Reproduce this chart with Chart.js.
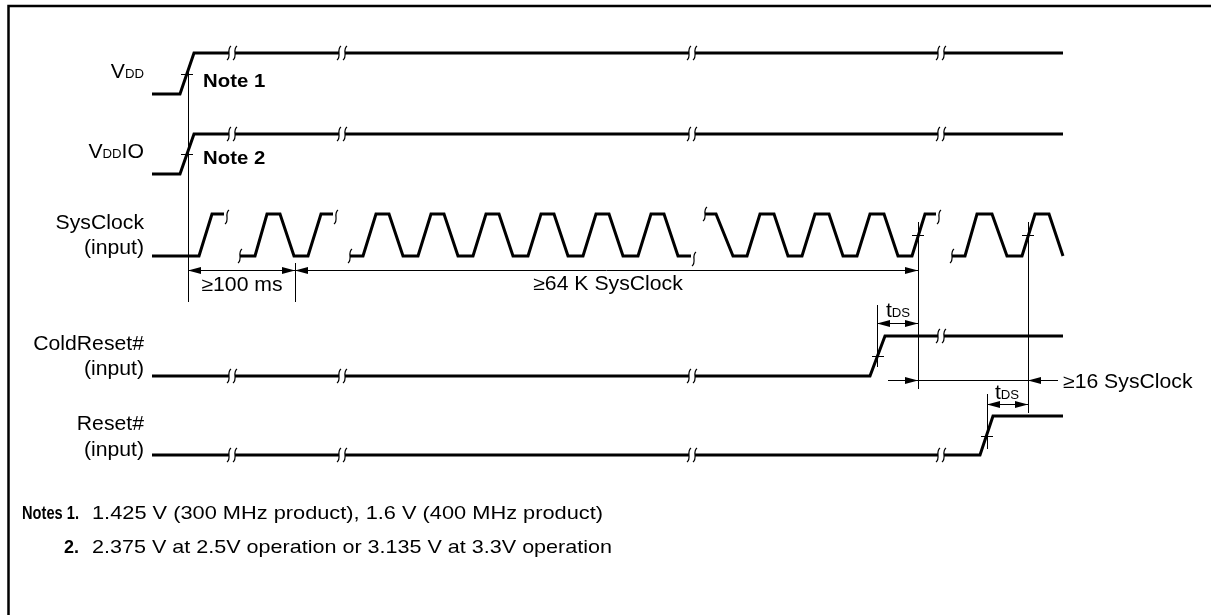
<!DOCTYPE html>
<html>
<head>
<meta charset="utf-8">
<script src="https://cdn.jsdelivr.net/npm/chart.js@4.4.0/dist/chart.umd.min.js"></script>
<style>
  body { margin: 0; background: #fff; }
  canvas { display: block; }
</style>
</head>
<body>
<canvas id="timing" width="1211" height="615"></canvas>
<script>
// ---- data (time axis in diagram units, level 0 = low, 1 = high, null = break) ----
const rowLow  = [94, 174, 256, 376, 455];
const rowHigh = [53, 134, 214, 336, 416];

const vddTimes    = [152, 180, 194, 1063];
const vddLevels   = [0, 0, 1, 1];
const vddioTimes  = [152, 180, 194, 1063];
const vddioLevels = [0, 0, 1, 1];

const clockTimes = [
  152, 199, 212, 224, null,
  240, 255, 267, 280, 294, 308, 321, 333, null,
  350, 363, 376, 389, 403, 418, 431, 444, 458, 473, 486, 499, 513, 528, 541, 554,
  568, 583, 596, 609, 623, 638, 651, 664, 678, 691, null,
  705, 716, 733, 747, 760, 774, 788, 802, 815, 829, 843, 857, 870, 884, 898, 912, 925, 936, null,
  952, 965, 977, 992, 1007, 1022, 1035, 1049, 1063
];
const clockLevels = [
  0, 0, 1, 1, null,
  0, 0, 1, 1, 0, 0, 1, 1, null,
  0, 0, 1, 1, 0, 0, 1, 1, 0, 0, 1, 1, 0, 0, 1, 1,
  0, 0, 1, 1, 0, 0, 1, 1, 0, 0, null,
  1, 1, 0, 0, 1, 1, 0, 0, 1, 1, 0, 0, 1, 1, 0, 0, 1, 1, null,
  0, 0, 1, 1, 0, 0, 1, 1, 0
];

const coldTimes   = [152, 870, 885, 1063];
const coldLevels  = [0, 0, 1, 1];
const resetTimes  = [152, 980, 993, 1063];
const resetLevels = [0, 0, 1, 1];

// time points where the straight lines carry a "break" mark
const breakTimes = [232, 342, 692, 941];

// reference lines, crossing ticks and dimension arrows
const guides  = [[188, 67, 302], [295, 263, 302], [918, 222, 389], [1028, 222, 413], [877, 305, 367], [987, 394, 449]];
const ticks   = [[187, 74], [187, 154], [918, 235], [1028, 235], [878, 356], [987, 436]];
const spans   = [[188, 295, 270], [295, 918, 270], [877, 918, 323], [987, 1028, 404]];

const FONT = '"Liberation Sans", Arial, Helvetica, sans-serif';
const SX = 1.1; // source lettering is slightly wide
const TS = 19.3;

function toPoints(times, levels, row) {
  return times.map((t, i) => t === null
    ? { x: null, y: null }
    : { x: t, y: levels[i] ? rowHigh[row] : rowLow[row] });
}

function levelAt(times, levels, t) {
  let lv = levels[0];
  times.forEach((tt, i) => { if (tt !== null && tt <= t) lv = levels[i]; });
  return lv;
}

function signal(times, levels, row) {
  return {
    data: toPoints(times, levels, row),
    showLine: true,
    borderColor: '#000',
    borderWidth: 3,
    borderJoinStyle: 'miter',
    pointRadius: 0,
    tension: 0,
    spanGaps: false
  };
}

// draw a run of text pieces, each with own size / weight
function runs(ctx, parts, x, y, align) {
  ctx.save();
  ctx.textBaseline = 'alphabetic';
  let total = 0;
  parts.forEach(p => {
    ctx.font = (p.bold ? 'bold ' : '') + p.size + 'px ' + FONT;
    const raw = ctx.measureText(p.t).width;
    p.sx = p.fit ? p.fit / raw : SX;
    p.w = raw * p.sx;
    total += p.w;
  });
  let left = align === 'right' ? x - total : align === 'center' ? x - total / 2 : x;
  parts.forEach(p => {
    ctx.save();
    ctx.font = (p.bold ? 'bold ' : '') + p.size + 'px ' + FONT;
    ctx.translate(left, y);
    ctx.scale(p.sx, 1);
    ctx.fillStyle = '#000';
    ctx.fillText(p.t, 0, 0);
    ctx.restore();
    left += p.w;
  });
  ctx.restore();
}

function squiggle(ctx, x, y) {
  ctx.beginPath();
  ctx.moveTo(x + 2, y - 7);
  ctx.bezierCurveTo(x - 3, y - 3, x + 3, y + 3, x - 2, y + 7);
  ctx.stroke();
}

function head(ctx, tx, y, dir) {
  ctx.beginPath();
  ctx.moveTo(tx, y);
  ctx.lineTo(tx - dir * 13, y - 3.5);
  ctx.lineTo(tx - dir * 13, y + 3.5);
  ctx.closePath();
  ctx.fill();
}

const extras = {
  id: 'extras',
  afterDatasetsDraw(chart) {
    const ctx = chart.ctx;
    const X = v => chart.scales.x.getPixelForValue(v);
    const Y = v => chart.scales.y.getPixelForValue(v);
    ctx.save();
    ctx.strokeStyle = '#000';
    ctx.fillStyle = '#000';

    // frame
    ctx.lineWidth = 2.5;
    ctx.beginPath();
    ctx.moveTo(8.5, 615); ctx.lineTo(8.5, 6); ctx.lineTo(1211, 6);
    ctx.stroke();

    // double break marks on the straight signals
    ctx.lineWidth = 1.2;
    const straight = [[vddTimes, vddLevels, 0], [vddioTimes, vddioLevels, 1],
                      [coldTimes, coldLevels, 3], [resetTimes, resetLevels, 4]];
    straight.forEach(([ts, lv, r]) => {
      breakTimes.forEach(t => {
        const level = levelAt(ts, lv, t) ? rowHigh[r] : rowLow[r];
        ctx.fillStyle = '#fff';
        ctx.fillRect(X(t) - 3, Y(level) - 2.5, 6, 5);
        ctx.fillStyle = '#000';
        squiggle(ctx, X(t) - 3, Y(level));
        squiggle(ctx, X(t) + 3, Y(level));
      });
    });

    // single break marks on the clock where the waveform is cut
    clockTimes.forEach((t, i) => {
      if (t !== null) return;
      const a = i - 1, b = i + 1;
      squiggle(ctx, X(clockTimes[a]) + 3, Y(clockLevels[a] ? rowHigh[2] : rowLow[2]) + 3);
      squiggle(ctx, X(clockTimes[b]), Y(clockLevels[b] ? rowHigh[2] : rowLow[2]));
    });

    // guide lines and crossing ticks
    ctx.lineWidth = 1;
    guides.forEach(([gx, y1, y2]) => {
      ctx.beginPath();
      ctx.moveTo(Math.round(X(gx)) + 0.5, Y(y1));
      ctx.lineTo(Math.round(X(gx)) + 0.5, Y(y2));
      ctx.stroke();
    });
    ticks.forEach(([tx, ty]) => {
      ctx.beginPath();
      ctx.moveTo(X(tx) - 6, Math.round(Y(ty)) + 0.5);
      ctx.lineTo(X(tx) + 6, Math.round(Y(ty)) + 0.5);
      ctx.stroke();
    });

    // dimension arrows pointing out to the guide lines
    spans.forEach(([a, b, sy]) => {
      const py = Math.round(Y(sy)) + 0.5;
      ctx.beginPath(); ctx.moveTo(X(a), py); ctx.lineTo(X(b), py); ctx.stroke();
      head(ctx, X(a), py, -1);
      head(ctx, X(b), py, 1);
    });
    // >=16 SysClock: arrows coming in from outside
    const py16 = Math.round(Y(380)) + 0.5;
    ctx.beginPath(); ctx.moveTo(X(888), py16); ctx.lineTo(X(1058), py16); ctx.stroke();
    head(ctx, X(918), py16, 1);
    head(ctx, X(1028), py16, -1);

    // signal names
    runs(ctx, [{ t: 'V', size: TS }, { t: 'DD', size: 12 }], X(144), Y(78), 'right');
    runs(ctx, [{ t: 'V', size: TS }, { t: 'DD', size: 12 }, { t: 'IO', size: TS }], X(144), Y(158), 'right');
    runs(ctx, [{ t: 'SysClock', size: TS }], X(144), Y(229), 'right');
    runs(ctx, [{ t: '(input)', size: TS }], X(144), Y(254), 'right');
    runs(ctx, [{ t: 'ColdReset#', size: TS }], X(144), Y(350), 'right');
    runs(ctx, [{ t: '(input)', size: TS }], X(144), Y(375), 'right');
    runs(ctx, [{ t: 'Reset#', size: TS }], X(144), Y(430), 'right');
    runs(ctx, [{ t: '(input)', size: TS }], X(144), Y(456), 'right');

    runs(ctx, [{ t: 'Note 1', size: 18.5, bold: true }], X(203), Y(87), 'left');
    runs(ctx, [{ t: 'Note 2', size: 18.5, bold: true }], X(203), Y(164), 'left');

    runs(ctx, [{ t: '\u2265100 ms', size: TS }], X(242), Y(291), 'center');
    runs(ctx, [{ t: '\u226564 K SysClock', size: TS }], X(608), Y(290), 'center');
    runs(ctx, [{ t: 't', size: TS }, { t: 'DS', size: 12 }], X(898), Y(317), 'center');
    runs(ctx, [{ t: 't', size: TS }, { t: 'DS', size: 12 }], X(1007), Y(399), 'center');
    runs(ctx, [{ t: '\u226516 SysClock', size: TS }], X(1063), Y(388), 'left');

    // notes
    runs(ctx, [{ t: 'Notes 1.', size: 17.5, bold: true, fit: 57 }], X(22), Y(519), 'left');
    runs(ctx, [{ t: '1.425 V (300 MHz product), 1.6 V (400 MHz product)', size: 18.5, fit: 511 }], X(92), Y(519), 'left');
    runs(ctx, [{ t: '2.', size: 17.5, bold: true, fit: 15 }], X(79), Y(553), 'right');
    runs(ctx, [{ t: '2.375 V at 2.5V operation or 3.135 V at 3.3V operation', size: 18.5, fit: 520 }], X(92), Y(553), 'left');

    ctx.restore();
  }
};

new Chart(document.getElementById('timing'), {
  type: 'scatter',
  data: {
    datasets: [
      signal(vddTimes, vddLevels, 0),
      signal(vddioTimes, vddioLevels, 1),
      signal(clockTimes, clockLevels, 2),
      signal(coldTimes, coldLevels, 3),
      signal(resetTimes, resetLevels, 4)
    ]
  },
  options: {
    responsive: false,
    animation: false,
    layout: { padding: 0 },
    plugins: { legend: { display: false }, tooltip: { enabled: false } },
    scales: {
      x: { type: 'linear', min: 0, max: 1211, display: false },
      y: { type: 'linear', min: 0, max: 615, reverse: true, display: false }
    }
  },
  plugins: [extras]
});
</script>
</body>
</html>
